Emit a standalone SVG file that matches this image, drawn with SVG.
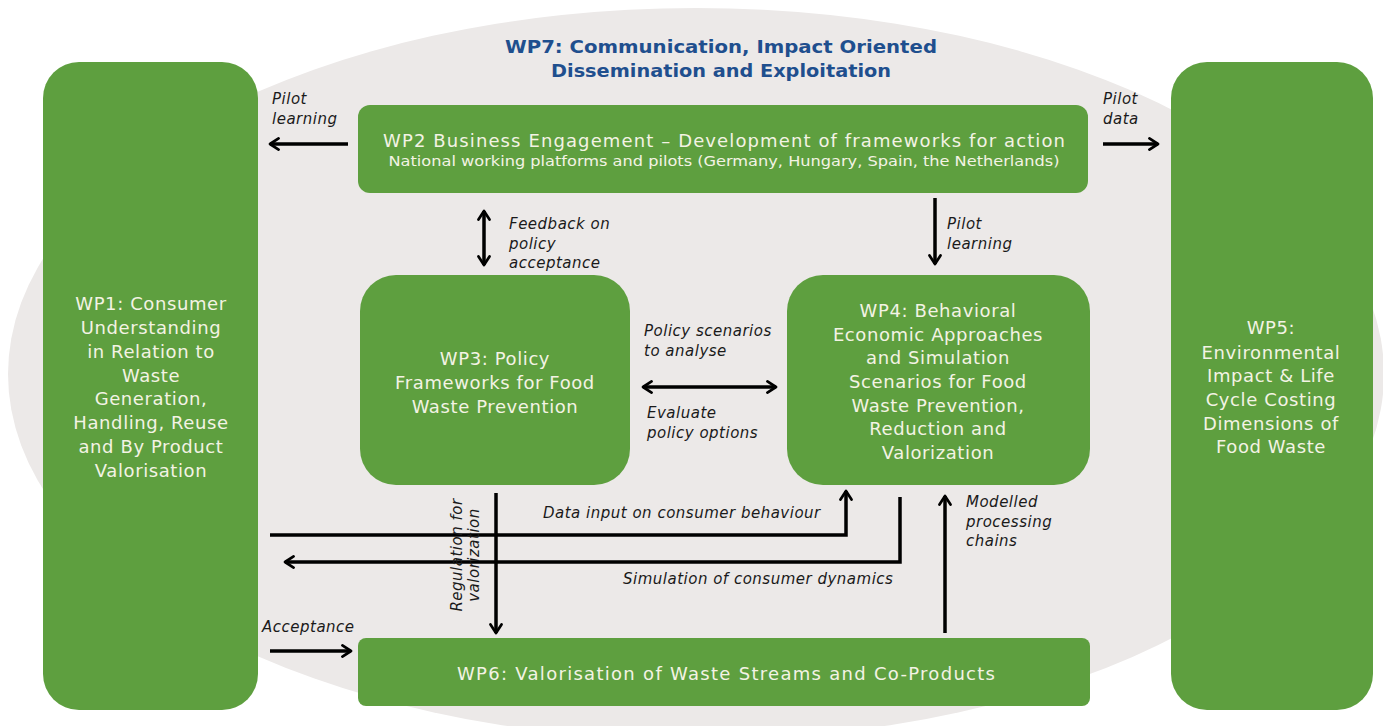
<svg xmlns="http://www.w3.org/2000/svg" width="1383" height="726" viewBox="0 0 1383 726">
<defs>
<style>
.box{fill:#5e9f3f;}
.bt{font-family:"DejaVu Sans",Verdana,sans-serif;font-size:18px;letter-spacing:0.6px;fill:#f3f3e4;text-anchor:middle;}
.st{font-family:"DejaVu Sans",Verdana,sans-serif;font-size:14px;fill:#f3f3e4;text-anchor:middle;}
.lb{font-family:"DejaVu Sans",Verdana,sans-serif;font-size:15px;letter-spacing:0.5px;font-style:italic;fill:#1a1a1a;}
.ttl{font-family:"DejaVu Sans",Verdana,sans-serif;font-size:17px;font-weight:bold;fill:#1f4f8e;text-anchor:middle;}
.ar{fill:none;stroke:#000;stroke-width:3.5;}
</style>
<marker id="ah" viewBox="0 0 12 12" refX="10" refY="6" markerWidth="4.2" markerHeight="4.2" orient="auto-start-reverse" markerUnits="strokeWidth">
<polyline points="3,1.5 10,6 3,10.5" fill="none" stroke="#000" stroke-width="2.2" stroke-linecap="round" stroke-linejoin="round"/>
</marker>
</defs>
<rect width="1383" height="726" fill="#ffffff"/>
<g id="wp7">
<ellipse cx="696" cy="374" rx="688" ry="366" fill="#ece9e8"/>
<text class="ttl" x="721" y="53" textLength="432" lengthAdjust="spacingAndGlyphs">WP7: Communication, Impact Oriented</text>
<text class="ttl" x="721" y="77" textLength="340" lengthAdjust="spacingAndGlyphs">Dissemination and Exploitation</text>
</g>
<g id="wp1">
<rect class="box" x="43" y="62" width="215" height="648" rx="36"/>
<text class="bt" x="151" y="310">WP1: Consumer</text>
<text class="bt" x="151" y="334">Understanding</text>
<text class="bt" x="151" y="358">in Relation to</text>
<text class="bt" x="151" y="382">Waste</text>
<text class="bt" x="151" y="405">Generation,</text>
<text class="bt" x="151" y="429">Handling, Reuse</text>
<text class="bt" x="151" y="453">and By Product</text>
<text class="bt" x="151" y="477">Valorisation</text>
</g>
<g id="wp5">
<rect class="box" x="1171" y="62" width="202" height="648" rx="36"/>
<text class="bt" x="1271" y="334">WP5:</text>
<text class="bt" x="1271" y="359">Environmental</text>
<text class="bt" x="1271" y="382">Impact &amp; Life</text>
<text class="bt" x="1271" y="406">Cycle Costing</text>
<text class="bt" x="1271" y="430">Dimensions of</text>
<text class="bt" x="1271" y="453">Food Waste</text>
</g>
<g id="wp2">
<rect class="box" x="358" y="105" width="730" height="88" rx="12"/>
<text class="bt" x="724" y="147" textLength="682" lengthAdjust="spacing" style="letter-spacing:0">WP2 Business Engagement – Development of frameworks for action</text>
<text class="st" x="724" y="166" textLength="671" lengthAdjust="spacingAndGlyphs">National working platforms and pilots (Germany, Hungary, Spain, the Netherlands)</text>
</g>
<g id="wp3">
<rect class="box" x="360" y="275" width="270" height="210" rx="36"/>
<text class="bt" x="495" y="365">WP3: Policy</text>
<text class="bt" x="495" y="389">Frameworks for Food</text>
<text class="bt" x="495" y="413">Waste Prevention</text>
</g>
<g id="wp4">
<rect class="box" x="787" y="275" width="303" height="210" rx="36"/>
<text class="bt" x="938" y="317">WP4: Behavioral</text>
<text class="bt" x="938" y="341">Economic Approaches</text>
<text class="bt" x="938" y="364">and Simulation</text>
<text class="bt" x="938" y="388">Scenarios for Food</text>
<text class="bt" x="938" y="412">Waste Prevention,</text>
<text class="bt" x="938" y="435">Reduction and</text>
<text class="bt" x="938" y="459">Valorization</text>
</g>
<g id="wp6">
<rect class="box" x="358" y="638" width="732" height="68" rx="8"/>
<text class="bt" x="726" y="680" textLength="538" lengthAdjust="spacing" style="letter-spacing:0">WP6: Valorisation of  Waste Streams and Co-Products</text>
</g>
<g id="connectors">
<line class="ar" x1="348" y1="144" x2="270" y2="144" marker-end="url(#ah)"/>
<line class="ar" x1="1103" y1="144" x2="1158" y2="144" marker-end="url(#ah)"/>
<line class="ar" x1="484" y1="211" x2="484" y2="265" marker-start="url(#ah)" marker-end="url(#ah)"/>
<line class="ar" x1="935" y1="198" x2="935" y2="264" marker-end="url(#ah)"/>
<line class="ar" x1="643" y1="387" x2="776" y2="387" marker-start="url(#ah)" marker-end="url(#ah)"/>
<polyline class="ar" points="270,535 846,535 846,491" marker-end="url(#ah)"/>
<polyline class="ar" points="900,497 900,562 285,562" marker-end="url(#ah)"/>
<line class="ar" x1="496" y1="493" x2="496" y2="633" marker-end="url(#ah)"/>
<line class="ar" x1="945" y1="633" x2="945" y2="496" marker-end="url(#ah)"/>
<line class="ar" x1="270" y1="651" x2="351" y2="651" marker-end="url(#ah)"/>
<text class="lb" x="272" y="104">Pilot</text>
<text class="lb" x="272" y="124">learning</text>
<text class="lb" x="1103" y="104">Pilot</text>
<text class="lb" x="1103" y="124">data</text>
<text class="lb" x="509" y="229">Feedback on</text>
<text class="lb" x="509" y="249">policy</text>
<text class="lb" x="509" y="268">acceptance</text>
<text class="lb" x="947" y="229">Pilot</text>
<text class="lb" x="947" y="249">learning</text>
<text class="lb" x="644" y="336">Policy scenarios</text>
<text class="lb" x="644" y="356">to analyse</text>
<text class="lb" x="647" y="418">Evaluate</text>
<text class="lb" x="647" y="438">policy options</text>
<text class="lb" x="543" y="518">Data input on consumer behaviour</text>
<text class="lb" x="623" y="584">Simulation of consumer dynamics</text>
<text class="lb" x="966" y="507">Modelled</text>
<text class="lb" x="966" y="527">processing</text>
<text class="lb" x="966" y="546">chains</text>
<text class="lb" x="262" y="632">Acceptance</text>
<text class="lb" transform="translate(462,555) rotate(-90)" text-anchor="middle" font-style="normal">Regulation for</text>
<text class="lb" transform="translate(479,555) rotate(-90)" text-anchor="middle" font-style="normal">valorization</text>
</g>
</svg>
